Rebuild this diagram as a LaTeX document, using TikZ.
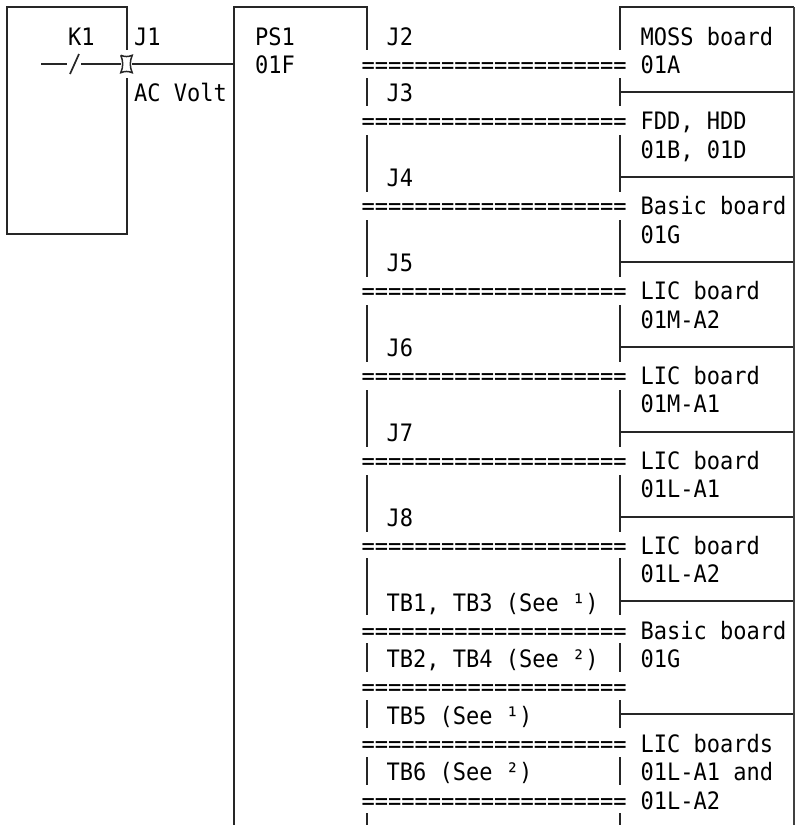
\documentclass[tikz,border=0pt]{standalone}
\usepackage{fontspec}
\setmonofont[FakeStretch=0.917]{DejaVu Sans Mono}
\begin{document}
\begin{tikzpicture}[x=1pt,y=-1pt,
  txt/.style={anchor=base west,inner sep=0pt,font=\ttfamily\fontsize{24}{24}\selectfont},
  ln/.style={line width=1.5pt,black!85}]
\useasboundingbox (0,0) rectangle (795,825);
\newcommand{\rowtext}[4]{\node[txt] (#1) at (#2,{45+28.3*#3}) {#4};}
\rowtext{k1}{68}{0}{K1}
\rowtext{jone}{134}{0}{J1}
\rowtext{psa}{255}{0}{PS1}
\rowtext{psb}{255}{1}{01F}
\rowtext{acv}{134}{2}{AC Volt}
\rowtext{jtwo}{386.5}{0}{J2}
\rowtext{jthree}{386.5}{2}{J3}
\rowtext{jfour}{386.5}{5}{J4}
\rowtext{jfive}{386.5}{8}{J5}
\rowtext{jsix}{386.5}{11}{J6}
\rowtext{jseven}{386.5}{14}{J7}
\rowtext{jeight}{386.5}{17}{J8}
\rowtext{tba}{386.5}{20}{TB1, TB3 (See ¹)}
\rowtext{tbb}{386.5}{22}{TB2, TB4 (See ²)}
\rowtext{tbc}{386.5}{24}{TB5 (See ¹)}
\rowtext{tbd}{386.5}{26}{TB6 (See ²)}
\rowtext{ra}{640.5}{0}{MOSS board}
\rowtext{rb}{640.5}{1}{01A}
\rowtext{rc}{640.5}{3}{FDD, HDD}
\rowtext{rd}{640.5}{4}{01B, 01D}
\rowtext{re}{640.5}{6}{Basic board}
\rowtext{rf}{640.5}{7}{01G}
\rowtext{rg}{640.5}{9}{LIC board}
\rowtext{rh}{640.5}{10}{01M-A2}
\rowtext{ri}{640.5}{12}{LIC board}
\rowtext{rj}{640.5}{13}{01M-A1}
\rowtext{rk}{640.5}{15}{LIC board}
\rowtext{rl}{640.5}{16}{01L-A1}
\rowtext{rm}{640.5}{18}{LIC board}
\rowtext{rn}{640.5}{19}{01L-A2}
\rowtext{ro}{640.5}{21}{Basic board}
\rowtext{rp}{640.5}{22}{01G}
\rowtext{rq}{640.5}{25}{LIC boards}
\rowtext{rr}{640.5}{26}{01L-A1 and}
\rowtext{rs}{640.5}{27}{01L-A2}
% double-line rows
\foreach \r in {1,3,6,9,12,15,18,21,23,25,27}
  \node[txt] (eq\r) at (361.5,{45+28.3*\r}) {====================};
% K1 box
\draw[ln] (127,50) -- (127,7) -- (7,7) -- (7,234) -- (127,234) -- (127,78);
% connector symbol and wire
\coordinate (wirestart) at (41,64);
\coordinate (sla) at (70,74);
\coordinate (slb) at (79,54);
\node[inner sep=0pt,minimum width=11pt,minimum height=17pt] (conn) at (126.5,64) {};
\draw[ln] (conn.north west) to[bend right=22] (conn.north east) to[bend right=22] (conn.south east) to[bend right=22] (conn.south west) to[bend right=22] (conn.north west);
\draw[ln] (wirestart) -- (67,64);
\draw[ln,line width=1.7pt] (sla) -- (slb);
\draw[ln] (81,64) -- (conn.west);
\coordinate (psleft) at (234,64);
\draw[ln] (conn.east) -- (psleft);
% PS1 box and shared verticals
\draw[ln,line width=1.8pt] (234,825) -- (234,7) -- (367,7) -- (367,50);
\draw[ln] (620,50) -- (620,7) -- (794,7);
\draw[line width=2.4pt,black!75] (794,7) -- (794,825);
\foreach \xx in {367,620}
  \foreach \a/\b in {78/106,135/192,220/277,305/362,390/447,475/532,558/615,643/672,700/728,757/785,813/825}
    \draw[ln] (\xx,\a) -- (\xx,\b);
\foreach \yy in {92,177,262,347,432,517,601,714}
  \draw[ln] (620,\yy) -- (793,\yy);
\end{tikzpicture}
\end{document}
